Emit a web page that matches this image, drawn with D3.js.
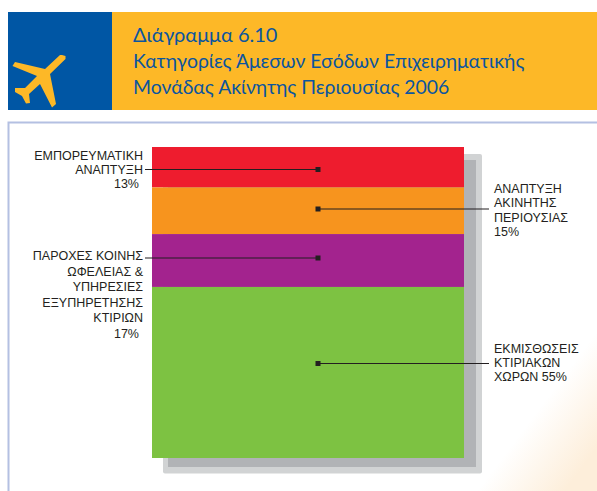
<!DOCTYPE html>
<html>
<head>
<meta charset="utf-8">
<script src="https://cdn.jsdelivr.net/npm/d3@7"></script>
<style>
  html, body { margin: 0; padding: 0; background: #fff; }
  svg { display: block; }
</style>
</head>
<body>
<div id="chart"></div>
<script>
// values (top to bottom in the stacked column)
const categories = ['trading', 'property', 'utilities', 'rental'];
const shares = [13, 15, 17, 55];
const colors = ['#ee1c2e', '#f7941e', '#a3238e', '#7dc242'];
const titleLines = ['Διάγραμμα 6.10', 'Κατηγορίες Άμεσων Εσόδων Επιχειρηματικής', 'Μονάδας Ακίνητης Περιουσίας 2006'];
const labelLines = [
  ['ΕΜΠΟΡΕΥΜΑΤΙΚΗ', 'ΑΝΑΠΤΥΞΗ', '13%'],
  ['ΑΝΑΠΤΥΞΗ', 'ΑΚΙΝΗΤΗΣ', 'ΠΕΡΙΟΥΣΙΑΣ', '15%'],
  ['ΠΑΡΟΧΕΣ ΚΟΙΝΗΣ', 'ΩΦΕΛΕΙΑΣ &', 'ΥΠΗΡΕΣΙΕΣ', 'ΕΞΥΠΗΡΕΤΗΣΗΣ', 'ΚΤΙΡΙΩΝ', '17%'],
  ['ΕΚΜΙΣΘΩΣΕΙΣ', 'ΚΤΙΡΙΑΚΩΝ', 'ΧΩΡΩΝ 55%']
];
const labelSide = ['left', 'right', 'left', 'right'];

const width = 597, height = 491;
const svg = d3.select('#chart').append('svg')
  .attr('width', width)
  .attr('height', height)
  .style('font-family', "'Liberation Sans', Arial, sans-serif");

// peach glow in the bottom right corner of the page
const defs = svg.append('defs');
const glow = defs.append('linearGradient')
  .attr('id', 'glow')
  .attr('gradientUnits', 'userSpaceOnUse')
  .attr('x1', 541).attr('y1', 406)
  .attr('x2', 597).attr('y2', 448);
glow.append('stop').attr('offset', '0').attr('stop-color', '#fff');
glow.append('stop').attr('offset', '1').attr('stop-color', '#fdeeda');

// page frame
svg.append('rect').attr('x', 8.5).attr('y', 122.5).attr('width', 600).attr('height', 400)
  .attr('fill', 'url(#glow)').attr('stroke', '#b4c0e2').attr('stroke-width', 2);

// header band
svg.append('rect').attr('x', 112).attr('y', 12).attr('width', 485).attr('height', 98).attr('fill', '#fdb827');
svg.append('rect').attr('x', 8).attr('y', 12).attr('width', 104).attr('height', 98).attr('fill', '#0056a4');
svg.append('path')
  .attr('d', 'M62,55 L65.5,56 L65.5,59 L50,74 L56,104 L52,107.5 L40,84 L29,94 L30,103 L26,103.5 L22,96 L15,92 L15,88 L25,88 L37,76 L12.5,66 L15,62 L45,69 L60,55 Z')
  .attr('fill', '#fdb827');

svg.append('g').selectAll('text')
  .data(titleLines)
  .join('text')
  .attr('x', 133)
  .attr('y', (d, i) => [42, 68, 94][i])
  .attr('fill', '#0b559f')
  .style('font-family', "Lato, 'Noto Sans', 'Open Sans', sans-serif")
  .style('font-size', (d, i) => i === 0 ? '20px' : '19.4px')
  .text(d => d);

// stacked column
const x = d3.scaleLinear().domain([0, 1]).range([152, 464]);
const y = d3.scaleLinear().domain([0, 100]).range([147, 458]);
const row = Object.fromEntries(categories.map((c, i) => [c, shares[i]]));
const series = d3.stack().keys(categories)([row]);

// shadow block behind the column
svg.append('rect').attr('x', 163).attr('y', 154).attr('width', 319).attr('height', 319.5)
  .attr('rx', 2).attr('fill', '#d1d3d4');
svg.append('rect').attr('x', 168).attr('y', 160).attr('width', 308).attr('height', 307)
  .attr('fill', '#b1b3b6');

svg.append('g').selectAll('rect')
  .data(series)
  .join('rect')
  .attr('x', x(0))
  .attr('width', x(1) - x(0))
  .attr('y', d => y(d[0][0]))
  .attr('height', d => y(d[0][1]) - y(d[0][0]))
  .attr('fill', (d, i) => colors[i]);

// leader lines go from the middle of the column out to the label
const anchorX = 318;
const leaderEnd = { left: 145, right: 489 };
const leaderY = [169.5, 209, 258, 363.5];
const labelX = { left: 143, right: 494 };
const firstLine = [160, 193, 260, 353];
const lineStep = [14, 14.3, 15.6, 14];

const leaders = svg.append('g');
series.forEach((s, i) => {
  leaders.append('line')
    .attr('x1', anchorX).attr('x2', leaderEnd[labelSide[i]])
    .attr('y1', leaderY[i]).attr('y2', leaderY[i])
    .attr('stroke', '#231f20').attr('stroke-width', 1.1);
  leaders.append('rect')
    .attr('x', anchorX - 2.5).attr('y', leaderY[i] - 2.5)
    .attr('width', 5).attr('height', 5)
    .attr('fill', '#231f20');
});

const labels = svg.append('g')
  .attr('fill', '#231f20')
  .style('font-size', '12.5px');
labelLines.forEach((lines, i) => {
  const side = labelSide[i];
  labels.append('g').selectAll('text')
    .data(lines)
    .join('text')
    .attr('x', labelX[side])
    .attr('y', (d, j) => firstLine[i] + j * lineStep[i])
    .attr('text-anchor', side === 'left' ? 'end' : 'start')
    .attr('dx', d => (side === 'left' && d.endsWith('%')) ? -4 : 0)
    .text(d => d);
});
</script>
</body>
</html>
